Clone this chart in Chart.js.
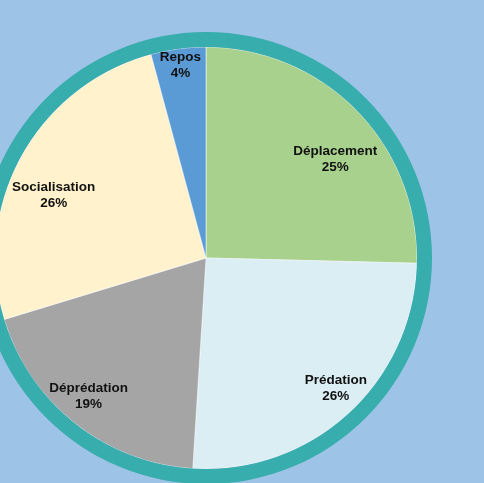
<!DOCTYPE html>
<html>
<head>
<meta charset="utf-8">
<script src="https://cdn.jsdelivr.net/npm/chart.js@4"></script>
<style>
  html, body { margin: 0; padding: 0; width: 484px; height: 483px; overflow: hidden; background: #9dc3e6; }
  #wrap { position: absolute; left: -20px; top: 32px; width: 452px; height: 452px; }
</style>
</head>
<body>
<div id="wrap"><canvas id="chart"></canvas></div>
<script>
const labels = ["Déplacement", "Prédation", "Déprédation", "Socialisation", "Repos"];
const values = [25.4, 25.6, 19.3, 25.5, 4.2];
const percentLabels = ["25%", "26%", "19%", "26%", "4%"];
const colors = ["#a9d18e", "#daeef3", "#a5a5a5", "#fff2cc", "#5b9bd5"];

// label placement (best fit like the original), degrees and fraction of radius
const labelTurn = [7, -2.5, 2, -6.7, 0];
const labelDist = [0.77, 0.87, 0.86, 0.78, 0.92];

// writes the category and percent inside each slice
const sliceLabels = {
	id: "sliceLabels",
	afterDatasetsDraw(chart) {
		const ctx = chart.ctx;
		const meta = chart.getDatasetMeta(1);
		ctx.save();
		ctx.fillStyle = "#111";
		ctx.font = "bold 13.5px 'Liberation Sans', Arial, sans-serif";
		ctx.textAlign = "center";
		ctx.textBaseline = "middle";
		meta.data.forEach((arc, i) => {
			const p = arc.getProps(["x", "y", "startAngle", "endAngle", "outerRadius"], true);
			const mid = (p.startAngle + p.endAngle) / 2 + labelTurn[i] * Math.PI / 180;
			const x = p.x + Math.cos(mid) * p.outerRadius * labelDist[i];
			const y = p.y + Math.sin(mid) * p.outerRadius * labelDist[i];
			ctx.fillText(labels[i], x, y - 8);
			ctx.fillText(percentLabels[i], x, y + 8);
		});
		ctx.restore();
	},
};

const ctx = document.getElementById("chart").getContext("2d");
const chart = new Chart(ctx, {
	type: "doughnut",
	data: {
		labels: labels,
		datasets: [
			{
				data: [1],
				backgroundColor: ["#37adad"],
				borderWidth: 0,
				weight: 15,
			},
			{
				data: values,
				backgroundColor: colors,
				borderColor: "rgba(255,255,255,0.5)",
				borderWidth: 1,
				weight: 211,
			},
		],
	},
	options: {
		responsive: true,
		maintainAspectRatio: false,
		animation: false,
		cutout: 0,
		layout: { padding: 0 },
		plugins: {
			legend: { display: false },
			tooltip: { enabled: false },
		},
	},
	plugins: [sliceLabels],
});
</script>
</body>
</html>
